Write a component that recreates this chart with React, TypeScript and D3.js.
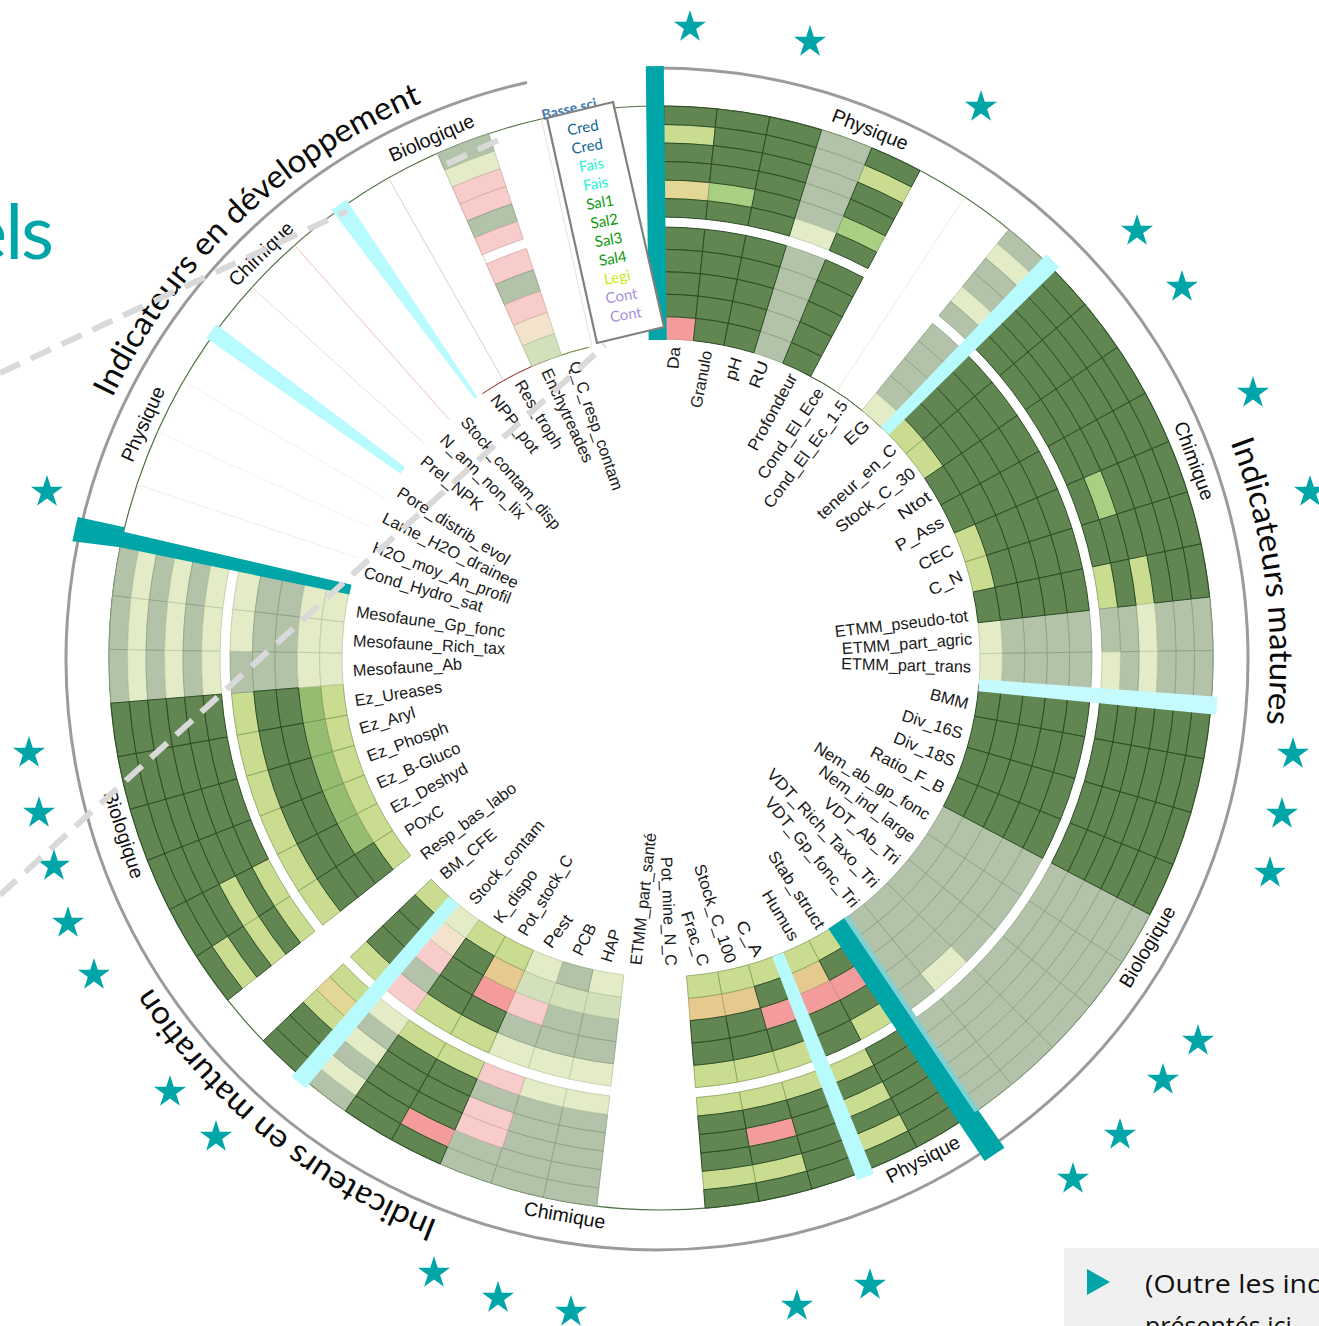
import React from "react";
import * as d3 from "d3";

const W = 1319, H = 1326;
const cx = 661, cy = 658;
const arcCx = 657, arcCy = 659, arcR = 591;
const rInner = [319, 431];
const rOuter = [441, 552];
const TEAL = "#00a5a8", CYAN = "#b8fbfe", TEAL_LIGHT = "#7fd1d4";

// Each column: 11 rings, outermost (Cred) first. "." = no data.
const physiqueMature = ["DLDDYDDDDDR", "DDDDMDDDDDD", "DDDDDDDDDDD", "GGGGGPGGGGG", "DLDDMDDDDDD", "...........", "...........", "GPGGPGGGGGP"];
const chimiqueMature = ["DDDDDDDDDDL", "DDDDDDDDDDL", "DDDDDDDDDDD", "DDDDDDDDDDD", "DDDDMDDDDDL", "DDDDDDDDDDL", "DDDLDLDDDDD", "GGGPGGGGGGP", "GGGPGPGGGGP"];
const biologiqueMature = ["DDDDDDDDDDD", "DDDDDDDDDDD", "DDDDDDDDDDD", "DDDDDDDDDDD", "GGGGGGGGGGG", "GGGGGGGGGGG", "GGGGGGGGGGG", "GGGGGGPGGGG", "GGGGGGGGGGG"];
const physiqueMaturation = ["DDDDDDLDRDL", "DLDLDLDDROL"];
const chimiqueMaturation = ["DDDDDLLDRDL", "DLDRDLLDDOL", "DLDDDLLDDOL", "...........", "...........", "GGGGGPPGGSP", "GGGGGPPGGSG", "GGrrGrPGrSP", "DRDDDLLDROL", "DDDDDLLDDDL", "GPGPGPrGroP"];
const biologiqueMaturation = ["DDDLYLLDDDL", "...........", "DLDLDLLDDDL", "DDDLDLLDDmL", "DDDDDDLDDmL", "DDDDDDLDDmL", "DDDDDDLDDmL", "DDDDDDLDDmL", "GPGPGPGGGPP", "GPGPGPPGGPP", "GPGPGPPGGPP"];
const physiqueDev = ["...........", "...........", "...........", "..........."];
const chimiqueDev = ["...........", "...........", "..........."];
const biologiqueDev = ["...........", "...........", "GPrrGrrGroS", "..........."];

const tracks = [physiqueMature, chimiqueMature, biologiqueMature, physiqueMaturation, chimiqueMaturation, biologiqueMaturation, physiqueDev, chimiqueDev, biologiqueDev];
const trackEdges = [[0.3, 44.6], [44.6, 94.8], [94.8, 146.3], [146.3, 158.5], [158.5, 220.5], [220.5, 282.1], [282.4, 306], [306, 324.7], [324.7, 347.5]];

const colorCodes = ["D", "L", "G", "P", "S", "R", "r", "O", "o", "M", "m", "Y"];
const colorFill = ["#618651", "#c9dc90", "#b2c3aa", "#e3ecc6", "#d2e1bb", "#f49c9c", "#f9cccc", "#e6c98f", "#f3e3cc", "#a9cf82", "#95bc70", "#e3d796"];
const colorStroke = ["#2c4d26", "#87a05a", "#8b9e84", "#bcc9a4", "#b3c49b", "#c98a80", "#d0aaa6", "#b59c66", "#cdbb9e", "#7fa45c", "#6f9550", "#a89c5a"];

const labels = ["Da", "Granulo", "pH", "RU", "Profondeur", "Cond_El_Ece", "Cond_El_Ec_1.5", "EG", "teneur_en_C", "Stock_C_30", "Ntot", "P_Ass", "CEC", "C_N", "ETMM_pseudo-tot", "ETMM_part_agric", "ETMM_part_trans", "BMM", "Div_16S", "Div_18S", "Ratio_F_B", "Nem_ab_gp_fonc", "Nem_ind_large", "VDT_Ab_Tri", "VDT_Rich_Taxo_Tri", "VDT_Gp_fonc_Tri", "Stab_struct", "Humus", "C_A", "Stock_C_100", "Frac_C", "Pot_mine_N_C", "ETMM_part_santé", "HAP", "PCB", "Pest", "Pot_stock_C", "K_dispo", "Stock_contam", "BM_CFE", "Resp_bas_labo", "POxC", "Ez_Deshyd", "Ez_B-Gluco", "Ez_Phosph", "Ez_Aryl", "Ez_Ureases", "Mesofaune_Ab", "Mesofaune_Rich_tax", "Mesofaune_Gp_fonc", "Cond_Hydro_sat", "H2O_moy_An_profil", "Lame_H2O_drainee", "Pore_distrib_evol", "Prel_NPK", "N_ann_non_lix", "Stock_contam_disp", "NPP_pot", "Res_troph", "Enchytreades", "Q_C_resp_contam"];
// End of each label nearest the ring, and its far end, in page pixels.
const labelNear = [[676, 347], [708, 351], [738, 358], [765, 362], [794, 375], [821, 390], [845, 403], [868, 424], [895, 448], [914, 472], [930, 496], [943, 522], [953, 550], [962, 576], [968, 617], [972, 640], [971, 668], [968, 705], [962, 735], [954, 763], [943, 790], [928, 817], [913, 840], [897, 862], [875, 886], [855, 906], [820, 928], [794, 940], [758, 956], [730, 963], [703, 966], [670, 966], [637, 965], [607, 962], [578, 955], [548, 947], [523, 935], [498, 922], [473, 903], [443, 877], [423, 857], [407, 833], [392, 810], [378, 785], [368, 758], [360, 730], [355, 702], [353, 672], [353, 642], [356, 613], [364, 573], [373, 548], [383, 518], [398, 492], [422, 460], [442, 438], [463, 420], [493, 397], [518, 382], [545, 370], [573, 362]];
const labelFar = [[674, 369], [697, 408], [731, 380], [755, 388], [753, 450], [762, 478], [768, 507], [847, 443], [820, 517], [838, 530], [900, 517], [897, 548], [920, 567], [930, 592], [835, 633], [842, 650], [841, 665], [930, 695], [902, 716], [894, 738], [871, 752], [815, 747], [820, 770], [825, 802], [769, 772], [767, 800], [771, 853], [765, 892], [739, 922], [698, 865], [685, 912], [665, 857], [652, 833], [617, 930], [593, 925], [570, 917], [570, 857], [535, 872], [542, 823], [495, 833], [515, 787], [443, 810], [467, 768], [460, 748], [448, 728], [415, 713], [442, 688], [462, 665], [505, 650], [505, 633], [482, 608], [510, 600], [517, 585], [508, 562], [480, 508], [522, 517], [557, 528], [535, 452], [558, 448], [588, 462], [617, 490]];

const sectorNames = ["Physique", "Chimique", "Biologique", "Physique", "Chimique", "Biologique", "Physique", "Chimique", "Biologique"];
const sectorNameAngle = [21.6, 69.7, 120.7, 152.4, 189.8, 251.8, 294.3, 315.3, 336.2];
const sectorNameRot = [21.6, 69.7, -59.3, -27.6, 9.8, 71.8, -65.7, -44.7, -23.8];

const groupTitles = ["Indicateurs matures", "Indicateurs en maturation", "Indicateurs en développement"];
const groupStart = [69.3, 201.3, 295.6];
const groupEnd = [96.1, 237, 337.1];
const groupRadius = [613, 603, 604];

const legendRows = ["Cred", "Cred", "Fais", "Fais", "Sal1", "Sal2", "Sal3", "Sal4", "Legi", "Cont", "Cont"];
const legendColors = ["#12668f", "#12668f", "#1df5d5", "#1df5d5", "#0a9a0a", "#0a9a0a", "#0a9a0a", "#0a9a0a", "#c4ee14", "#a98fd8", "#a98fd8"];

const stars = [[690, 27], [810, 42], [981, 107], [1137, 231], [1182, 287], [1253, 393], [1310, 492], [1293, 754], [1282, 814], [1270, 873], [1198, 1041], [1163, 1080], [1120, 1135], [1073, 1179], [870, 1285], [797, 1306], [571, 1312], [498, 1298], [434, 1273], [216, 1137], [170, 1092], [94, 975], [68, 923], [54, 866], [39, 813], [29, 753], [47, 492]];

const cyanDividers = [[44.6, 5.5, 9], [94.9, 6, 9], [158.5, 6, 9], [220.5, 6.5, 9], [306, 4, 8.5], [324.6, 1.5, 9]];
const cyanFills = [CYAN, "#c6fbfd", CYAN, CYAN, CYAN, CYAN];
const faintLines = [[288.3, "#eee6e2"], [294.2, "#efe9e4"], [300.1, "#eee6e2"], [306, "#8d6f66"], [312.2, "#eec7bd"], [318.4, "#e6a79f"], [324.7, "#b9a998"], [330.4, "#d6b59a"], [336.1, "#c7b98c"], [347.5, "#f0cfc4"], [27.6, "#eee8d8"], [33.4, "#e4e7cf"], [186.7, "#ececec"]];

const rad = (d: number) => (d * Math.PI) / 180;
const pt = (a: number, r: number, off = 0): [number, number] => [
  cx + r * Math.sin(rad(a)) + off * Math.cos(rad(a)),
  cy - r * Math.cos(rad(a)) + off * Math.sin(rad(a)),
];
const poly = (a: number, spec: number[][]) => "M" + spec.map(([r, o]) => pt(a, r, o).join(",")).join("L") + "Z";

export default function App() {
  const fill = d3.scaleOrdinal<string, string>().domain(colorCodes).range(colorFill);
  const stroke = d3.scaleOrdinal<string, string>().domain(colorCodes).range(colorStroke);
  const ringIn = d3.scaleBand<number>().domain([4, 3, 2, 1, 0]).range(rInner as [number, number]);
  const ringOut = d3.scaleBand<number>().domain([5, 4, 3, 2, 1, 0]).range(rOuter as [number, number]);
  const arc = d3.arc();

  const cells: any[] = [];
  tracks.forEach((cols, t) => {
    const ang = d3.scaleLinear().domain([0, cols.length]).range(trackEdges[t]);
    cols.forEach((col, c) => {
      col.split("").forEach((code, row) => {
        if (code === ".") return;
        const outer = row < 6;
        const r0 = outer ? ringOut(row)! : ringIn(row - 6)!;
        const bw = outer ? ringOut.bandwidth() : ringIn.bandwidth();
        cells.push({
          key: `${t}-${c}-${row}`,
          code,
          dark: code === "D",
          d: arc({ innerRadius: r0, outerRadius: r0 + bw, startAngle: rad(ang(c)), endAngle: rad(ang(c + 1)) } as any),
        });
      });
    });
  });
  cells.sort((a, b) => Number(a.dark) - Number(b.dark));

  const star = d3.symbol().type(d3.symbolStar).size(320)();

  const titlePaths = groupTitles.map((_, i) => {
    const p = d3.path();
    const r = groupRadius[i];
    p.arc(arcCx, arcCy, r, rad(groupStart[i] - 90), rad(groupEnd[i] - 90));
    return { d: p.toString(), len: r * rad(groupEnd[i] - groupStart[i]) };
  });

  const outerArc = d3.path();
  outerArc.arc(arcCx, arcCy, arcR, rad(-90), rad(347.3 - 90));

  const legendX = d3.scaleLinear().domain([0, 10]).range([583, 626]);
  const legendY = d3.scaleLinear().domain([0, 10]).range([129, 316]);

  const sans = "'Liberation Sans', Arial, sans-serif";
  return (
    <svg width={W} height={H} viewBox={`0 0 ${W} ${H}`} style={{ position: "absolute", left: 0, top: 0, display: "block", background: "#fff" }}>
      <defs>
        {titlePaths.map((p, i) => <path key={i} id={`title-${i}`} d={p.d} fill="none" />)}
      </defs>

      <text x={52} y={259} textAnchor="end" fontFamily="Lato" fontSize={76} fill="#00a5a8" letterSpacing={-2}>els</text>

      <path d={outerArc.toString()} fill="none" stroke="#9b9b9b" strokeWidth={3} />

      <circle cx={cx} cy={cy} r={552} fill="none" stroke="#4f7044" strokeWidth={1.2} />
      {[[26.5, 44.6, "#4f7044"], [326, 340, "#a8574f"], [340, 347, "#7f9a5c"]].map(([a0, a1, c], i) => (
        <path key={i} transform={`translate(${cx},${cy})`} fill="none" stroke={c as string} strokeWidth={1}
          d={arc({ innerRadius: 319, outerRadius: 319, startAngle: rad(a0 as number), endAngle: rad(a1 as number) } as any)!} />
      ))}
      {faintLines.map(([a, c], i) => {
        const [x1, y1] = pt(a as number, 319);
        const [x2, y2] = pt(a as number, 552);
        return <line key={i} x1={x1} y1={y1} x2={x2} y2={y2} stroke={c as string} strokeWidth={0.7} />;
      })}

      <g transform={`translate(${cx},${cy})`}>
        {cells.map((c) => (
          <path key={c.key} d={c.d} fill={fill(c.code)} stroke={stroke(c.code)} strokeWidth={c.dark ? 1 : 0.8} />
        ))}
      </g>

      {cyanDividers.map(([a, w0, w1], i) => (
        <path key={i} fill={cyanFills[i]} d={poly(a, [[319, -w0], [i > 3 ? 556 : 558, -w1], [i > 3 ? 556 : 558, w1], [319, w0]])} />
      ))}

      <path fill={TEAL} d={poly(-0.6, [[318, -9], [592, -9], [592, 9], [318, 9]])} />
      <path fill={TEAL} d={poly(146.1, [[318, -7], [598, -12], [598, 12], [552, 12], [318, 12]])} />
      <path fill={TEAL_LIGHT} d={poly(146.1, [[318, -12], [552, -12], [552, -7], [318, -7]])} />
      <path fill={TEAL} d={poly(282.4, [[318, -5], [552, -8], [600, -12.5], [600, 12.5], [552, 12.5], [552, 8], [318, 5]])} />

      {sectorNames.map((n, i) => {
        const a = rad(sectorNameAngle[i]);
        const x = cx + 567 * Math.sin(a), y = cy - 567 * Math.cos(a);
        return (
          <text key={i} transform={`translate(${x},${y}) rotate(${sectorNameRot[i]})`} textAnchor="middle" dominantBaseline="middle"
            fontFamily={sans} fontSize={19.5} fill="#111">{n}</text>
        );
      })}

      {labels.map((n, i) => {
        const [nx, ny] = labelNear[i];
        const [fx, fy] = labelFar[i];
        const len = Math.hypot(fx - nx, fy - ny);
        const towardRing = fx < nx;
        const rot = (towardRing ? Math.atan2(ny - fy, nx - fx) : Math.atan2(fy - ny, fx - nx)) * 180 / Math.PI;
        return (
          <text key={i} transform={`translate(${nx},${ny}) rotate(${rot})`} textAnchor={towardRing ? "end" : "start"} dominantBaseline="middle"
            fontFamily={sans} fontSize={16.5} fill="#1a1a1a" textLength={len} lengthAdjust="spacingAndGlyphs">{n}</text>
        );
      })}

      {groupTitles.map((t, i) => (
        <text key={i} fontFamily="Lato" fontSize={32} fill="#0a0a0a">
          <textPath href={`#title-${i}`} textLength={titlePaths[i].len} lengthAdjust="spacingAndGlyphs">{t}</textPath>
        </text>
      ))}

      {stars.map(([x, y], i) => <path key={i} d={star!} transform={`translate(${x},${y})`} fill={TEAL} />)}

      <g stroke="#d9d9d9" strokeWidth={6} strokeDasharray="22 12" fill="none">
        <line x1={0} y1={373} x2={347} y2={211} />
        <line x1={447} y1={164} x2={505} y2={137} />
        <line x1={0} y1={895} x2={605} y2={345} />
      </g>

      <text transform="translate(543,120) rotate(-13)" fontFamily="Lato" fontSize={14} fontWeight={700} fill="#3b78b0">Basse sci</text>
      <path d="M547,118L613,102L664,327L597,343Z" fill="#fff" stroke="#808080" strokeWidth={2.2} />
      {legendRows.map((n, i) => (
        <text key={i} transform={`translate(${legendX(i)},${legendY(i)}) rotate(-10)`} textAnchor="middle" dominantBaseline="middle"
          fontFamily="Lato" fontSize={15} fill={legendColors[i]}>{n}</text>
      ))}

      <rect x={1064} y={1248} width={255} height={78} fill="#f0f0f0" />
      <path d="M1087,1269L1110,1282L1087,1295Z" fill={TEAL} />
      <text x={1145} y={1293} fontFamily="'Open Sans'" fontSize={25} fill="#111" textLength={285} lengthAdjust="spacingAndGlyphs">(Outre les indicateurs</text>
      <text x={1145} y={1335} fontFamily="'Open Sans'" fontSize={25} fill="#111">présentés ici</text>
    </svg>
  );
}
